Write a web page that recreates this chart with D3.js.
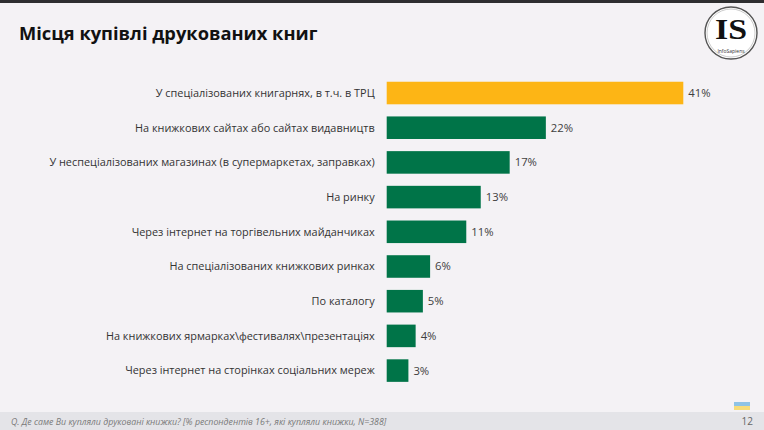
<!DOCTYPE html>
<html lang="uk">
<head>
    <meta charset="UTF-8">
    <title>Місця купівлі друкованих книг</title>
    <script src="https://d3js.org/d3.v7.min.js"></script>
    <style>
        html, body { margin: 0; padding: 0; background: #f4f2f5; }
        svg { display: block; font-family: "Open Sans", sans-serif; }
    </style>
</head>
<body>
    <svg width="764" height="430"></svg>
    <script>
        // Data
        const categories = [
            "У спеціалізованих книгарнях, в т.ч. в ТРЦ",
            "На книжкових сайтах або сайтах видавництв",
            "У неспеціалізованих магазинах (в супермаркетах, заправках)",
            "На ринку",
            "Через інтернет на торгівельних майданчиках ",
            "На спеціалізованих книжкових ринках",
            "По каталогу",
            "На книжкових ярмарках\\фестивалях\\презентаціях",
            "Через інтернет на сторінках соціальних мереж"
        ];
        const values = [41, 22, 17, 13, 11, 6, 5, 4, 3];
        const highlight = [true, false, false, false, false, false, false, false, false];

        const W = 764, H = 430;
        const svg = d3.select("svg");

        // background and top line
        svg.append("rect").attr("width", W).attr("height", H).attr("fill", "#f4f2f5");
        svg.append("rect").attr("width", W).attr("height", 3).attr("fill", "#2e2e30");

        // Title
        svg.append("text")
            .attr("x", 19)
            .attr("y", 40)
            .attr("font-size", 18.3)
            .attr("font-weight", "bold")
            .attr("fill", "#111")
            .text("Місця купівлі друкованих книг");

        // Logo
        const logo = svg.append("g").attr("transform", "translate(731,33)");
        logo.append("circle").attr("r", 26).attr("fill", "#fff").attr("stroke", "#555").attr("stroke-width", 1.4);
        logo.append("circle").attr("r", 24).attr("fill", "none").attr("stroke", "#aaa").attr("stroke-width", 0.6);
        logo.append("text")
            .attr("y", 6)
            .attr("text-anchor", "middle")
            .attr("font-family", "Liberation Serif, serif")
            .attr("font-weight", "bold")
            .attr("font-size", 30)
            .attr("textLength", 32)
            .attr("lengthAdjust", "spacingAndGlyphs")
            .attr("fill", "#111")
            .text("IS");
        logo.append("text")
            .attr("y", 19.5)
            .attr("text-anchor", "middle")
            .attr("font-size", 5)
            .attr("fill", "#333")
            .text("InfoSapiens");

        // Scales
        const x = d3.scaleLinear().domain([0, 41]).range([386.7, 683.3]);
        const y = d3.scaleBand().domain(categories).range([69.6, 394]).padding(0.35);

        // Bars
        svg.selectAll(".bar")
            .data(categories)
            .join("rect")
            .attr("class", "bar")
            .attr("x", x(0))
            .attr("y", d => y(d))
            .attr("width", (d, i) => x(values[i]) - x(0))
            .attr("height", y.bandwidth())
            .attr("fill", (d, i) => highlight[i] ? "#fdb515" : "#007448");

        // Category labels
        svg.selectAll(".cat")
            .data(categories)
            .join("text")
            .attr("class", "cat")
            .attr("x", x(0) - 12)
            .attr("y", d => y(d) + y.bandwidth() / 2)
            .attr("dy", "0.35em")
            .attr("text-anchor", "end")
            .attr("font-size", 10.9)
            .attr("fill", "#333")
            .text(d => d);

        // Value labels
        svg.selectAll(".val")
            .data(categories)
            .join("text")
            .attr("class", "val")
            .attr("x", (d, i) => x(values[i]) + 5)
            .attr("y", d => y(d) + y.bandwidth() / 2)
            .attr("dy", "0.35em")
            .attr("font-size", 11.3)
            .attr("fill", "#404040")
            .text((d, i) => values[i] + "%");

        // Footer
        svg.append("rect").attr("y", 412).attr("width", W).attr("height", 18).attr("fill", "#e4e4e8");
        svg.append("text")
            .attr("x", 11)
            .attr("y", 424.5)
            .attr("font-size", 8.8)
            .attr("font-style", "italic")
            .attr("fill", "#7a7a7a")
            .text("Q. Де саме Ви купляли друковані книжки? [% респондентів 16+, які купляли книжки, N=388]");
        svg.append("text")
            .attr("x", 753)
            .attr("y", 425)
            .attr("text-anchor", "end")
            .attr("font-size", 10)
            .attr("fill", "#666")
            .text("12");

        // small flag badge
        const badge = svg.append("g").attr("transform", "translate(734,402)");
        badge.append("rect").attr("width", 16).attr("height", 4).attr("fill", "#8ec3e6");
        badge.append("rect").attr("y", 4).attr("width", 16).attr("height", 4).attr("fill", "#f6dc7a");
    </script>
</body>
</html>
